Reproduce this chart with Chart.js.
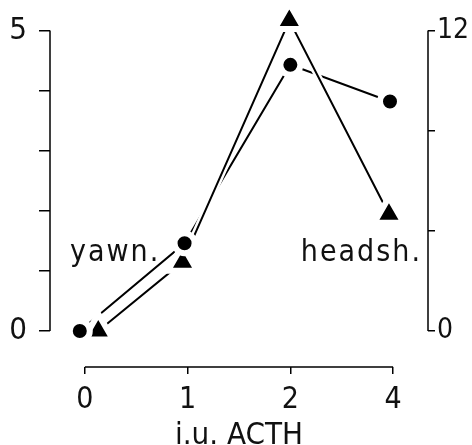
<!DOCTYPE html>
<html>
<head>
<meta charset="utf-8">
<script src="https://cdn.jsdelivr.net/npm/chart.js@4"></script>
<style>
  html, body { margin: 0; padding: 0; background: #fff; }
  #wrap { width: 472px; height: 445px; }
</style>
</head>
<body>
<div id="wrap"><canvas id="myChart" width="472" height="445"></canvas></div>
<script>
const xLabels = ["0", "1", "2", "4"];
const xTickPos = [0, 1, 2, 3];
const yawnX = [-0.05, 0.97, 2.0, 2.97];
const yawnY = [0, 1.46, 4.43, 3.82];
const headshX = [0.13, 0.95, 1.99, 2.96];
const headshY = [0, 2.75, 12.4, 4.66];
const leftTicks = [0, 1, 2, 3, 4, 5];
const rightTicks = [0, 4, 8, 12];

const fontFam = "'DejaVu Sans Condensed', 'DejaVu Sans', sans-serif";

const toPts = (xs, ys) => xs.map((x, i) => ({ x: x, y: ys[i] }));

// axis lines only span the data range + the two series names
const axisLines = {
  id: "axisLines",
  afterDraw(chart) {
    const { ctx, chartArea, scales } = chart;
    const { x, y, y2 } = scales;
    ctx.save();
    ctx.strokeStyle = "#000";
    ctx.lineWidth = 1.5;
    ctx.beginPath();
    ctx.moveTo(chartArea.left, y.getPixelForValue(0));
    ctx.lineTo(chartArea.left, y.getPixelForValue(5));
    ctx.moveTo(chartArea.right, y2.getPixelForValue(0));
    ctx.lineTo(chartArea.right, y2.getPixelForValue(12));
    ctx.moveTo(x.getPixelForValue(0), chartArea.bottom);
    ctx.lineTo(x.getPixelForValue(3), chartArea.bottom);
    ctx.stroke();

    ctx.fillStyle = "#111";
    ctx.font = "30px " + fontFam;
    ctx.letterSpacing = "2px";
    ctx.textBaseline = "alphabetic";
    ctx.textAlign = "left";
    ctx.fillText("yawn.", 70, 261);
    ctx.textAlign = "right";
    ctx.fillText("headsh.", 422, 261);
    ctx.restore();
  }
};

// lines (with a white halo so crossings break) and markers are separate
// datasets so the markers sit above every line
const lineSet = (label, xs, ys, axis, color, width, order) => ({
  label, data: toPts(xs, ys), yAxisID: axis,
  borderColor: color, borderWidth: width, pointRadius: 0, clip: false, order
});
const markSet = (label, xs, ys, axis, style, radius, order) => ({
  label, data: toPts(xs, ys), yAxisID: axis, showLine: false,
  pointStyle: style, pointRadius: radius,
  pointBackgroundColor: "#000", pointBorderColor: "#fff", pointBorderWidth: 6,
  clip: false, order
});

let config = {
  type: "line",
  data: {
    datasets: [
      markSet("yawn.", yawnX, yawnY, "y", "circle", 10, 1),
      markSet("headsh.", headshX, headshY, "y2", "triangle", 17, 2),
      lineSet("headsh. line", headshX, headshY, "y2", "#000", 2, 3),
      lineSet("headsh. halo", headshX, headshY, "y2", "#fff", 7, 4),
      lineSet("yawn. line", yawnX, yawnY, "y", "#000", 2, 5),
      lineSet("yawn. halo", yawnX, yawnY, "y", "#fff", 7, 6)
    ]
  },
  options: {
    responsive: false,
    animation: false,
    layout: { padding: { top: 30, left: 0, right: 0, bottom: 0 } },
    plugins: { legend: { display: false }, tooltip: { enabled: false } },
    scales: {
      x: {
        type: "linear",
        min: -0.34,
        max: 3.34,
        afterBuildTicks: (s) => { s.ticks = xTickPos.map(v => ({ value: v })); },
        afterFit: (s) => { s.height = 78; },
        border: { display: false },
        grid: { drawOnChartArea: false, drawTicks: true, tickLength: 7, color: "#000", lineWidth: 1.5 },
        ticks: {
          padding: 8,
          color: "#111",
          font: { family: fontFam, size: 30 },
          maxRotation: 0,
          callback: (v, i) => xLabels[i]
        },
        title: {
          display: true,
          text: "i.u. ACTH",
          color: "#111",
          font: { family: fontFam, size: 31 },
          padding: { top: 0, bottom: -10 }
        }
      },
      y: {
        position: "left",
        min: -0.6,
        max: 5,
        afterBuildTicks: (s) => { s.ticks = leftTicks.map(v => ({ value: v })); },
        afterFit: (s) => { s.width = 50; },
        border: { display: false },
        grid: { drawOnChartArea: false, drawTicks: true, tickLength: 11, color: "#000", lineWidth: 1.5 },
        ticks: {
          padding: 12,
          color: "#111",
          font: { family: fontFam, size: 31 },
          callback: (v) => (v === 0 || v === 5) ? String(v) : ""
        }
      },
      y2: {
        position: "right",
        min: -1.44,
        max: 12,
        afterBuildTicks: (s) => { s.ticks = rightTicks.map(v => ({ value: v })); },
        afterFit: (s) => { s.width = 44; },
        border: { display: false },
        grid: { drawOnChartArea: false, drawTicks: true, tickLength: 7, color: "#000", lineWidth: 1.5 },
        ticks: {
          padding: 2,
          color: "#111",
          font: { family: fontFam, size: 28 },
          callback: (v) => (v === 0 || v === 12) ? String(v) : ""
        }
      }
    }
  },
  plugins: [axisLines]
};

new Chart(document.querySelector("#myChart"), config);
</script>
</body>
</html>
